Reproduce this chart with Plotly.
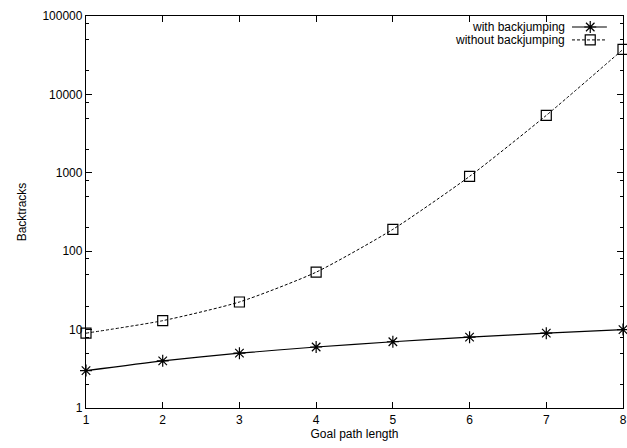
import plotly.graph_objects as go

goal_len = [1, 2, 3, 4, 5, 6, 7, 8]
with_bj = [3, 4, 5, 6, 7, 8, 9, 10]
without_bj = [9, 13, 22.5, 54, 190, 900, 5400, 37500]
y_ticks = [1, 10, 100, 1000, 10000, 100000]
y_tick_labels = ["1", "10", "100", "1000", "10000", "100000"]
legend_names = ["with backjumping", "without backjumping"]

minor_vals = [d * m for d in [1, 10, 100, 1000, 10000] for m in (2, 5, 8)]

FONT = "Liberation Sans, Arial, Helvetica, sans-serif"

fig = go.Figure()
fig.add_trace(go.Scatter(
    x=goal_len, y=with_bj, mode="lines+markers", name=legend_names[0],
    line=dict(color="black", width=1.2, shape="spline", smoothing=0.6),
    marker=dict(symbol="asterisk-open", size=10, color="black", line=dict(color="black", width=1.2)),
    showlegend=False, cliponaxis=False))
fig.add_trace(go.Scatter(
    x=goal_len, y=without_bj, mode="lines+markers", name=legend_names[1],
    line=dict(color="black", width=1, dash="3px,2px", shape="spline", smoothing=0.6),
    marker=dict(symbol="square-open", size=10, color="black", line=dict(color="black", width=1.2)),
    showlegend=False, cliponaxis=False))

# legend samples (drawn on a hidden overlay axis in plot-fraction coordinates)
leg_y = [0.972, 0.939]
styles = [dict(color="black", width=1.2), dict(color="black", width=1, dash="3px,2px")]
symbols = ["asterisk-open", "square-open"]
for i in range(2):
    fig.add_trace(go.Scatter(x=[0.905, 0.97], y=[leg_y[i]] * 2, mode="lines",
                             line=styles[i], xaxis="x2", yaxis="y2", showlegend=False,
                             hoverinfo="skip"))
    fig.add_trace(go.Scatter(x=[0.939], y=[leg_y[i]], mode="markers",
                             marker=dict(symbol=symbols[i], size=10, color="black",
                                         line=dict(color="black", width=1.2)),
                             xaxis="x2", yaxis="y2", showlegend=False, hoverinfo="skip"))
    fig.add_annotation(x=0.895, y=leg_y[i], xref="x2", yref="y2", text=legend_names[i],
                       showarrow=False, xanchor="right", yanchor="middle",
                       font=dict(family=FONT, size=12, color="black"))

fig.update_layout(
    width=627, height=448,
    margin=dict(l=86, r=4, t=16, b=40, autoexpand=False),
    plot_bgcolor="white", paper_bgcolor="white",
    font=dict(family=FONT, size=12, color="black"),
    xaxis=dict(range=[1, 8], tickvals=goal_len, ticks="inside", ticklen=6,
               tickcolor="black", showline=True, linecolor="black", linewidth=1.3,
               mirror="ticks", showgrid=False, zeroline=False, automargin=False,
               ticklabeloverflow="allow",
               tickfont=dict(size=12, color="black"),
               title=dict(text="Goal path length", standoff=3, font=dict(size=12))),
    yaxis=dict(type="log", range=[0, 5], tickvals=y_ticks, ticktext=y_tick_labels,
               ticks="inside", ticklen=6, tickcolor="black", showline=True,
               linecolor="black", linewidth=1.3, mirror="ticks", showgrid=False,
               zeroline=False, automargin=False, ticklabeloverflow="allow",
               tickfont=dict(size=12, color="black"),
               minor=dict(tickvals=minor_vals, ticks="inside", ticklen=3, tickcolor="black"),
               title=dict(text="Backtracks", standoff=13, font=dict(size=12))),
    xaxis2=dict(range=[0, 1], overlaying="x", visible=False, fixedrange=True),
    yaxis2=dict(range=[0, 1], overlaying="y", visible=False, fixedrange=True),
)

fig.write_html("out.html", config={"displayModeBar": False},
               post_script="document.body.style.margin='0';document.body.style.overflow='hidden';")
